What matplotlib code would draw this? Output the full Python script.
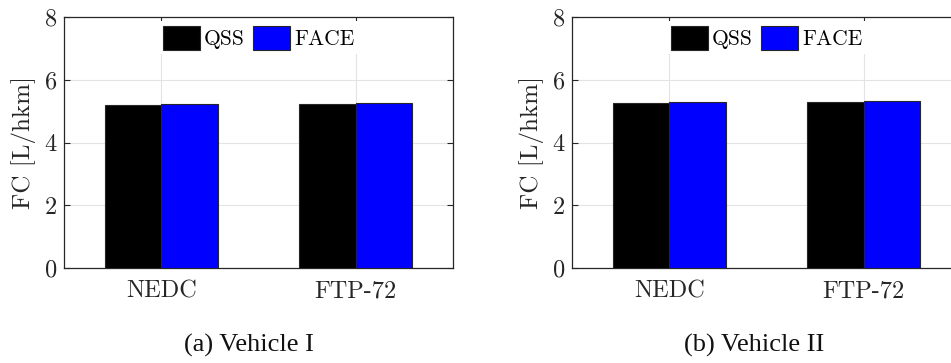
import matplotlib
matplotlib.use("Agg")
import matplotlib.pyplot as plt
import numpy as np

cycles = ["NEDC", "FTP-72"]
series = ["QSS", "FACE"]
vehicle1_qss = [5.21, 5.22]
vehicle1_face = [5.24, 5.25]
vehicle2_qss = [5.26, 5.29]
vehicle2_face = [5.30, 5.33]
captions = ["(a) Vehicle I", "(b) Vehicle II"]
yticks = [0, 2, 4, 6, 8]

plt.rcParams['font.family'] = ['cmr10', 'DejaVu Serif']
plt.rcParams['axes.unicode_minus'] = False
plt.rcParams['mathtext.fontset'] = 'cm'

fig = plt.figure(figsize=(9.51, 3.63), dpi=100)
W, H = 951, 363
axes_px = [(64, 17, 389, 251), (572, 17, 389, 251)]
caption_x = [248.5, 754]
data = [(vehicle1_qss, vehicle1_face), (vehicle2_qss, vehicle2_face)]
dark = '#262626'
bw = 0.29
x = np.arange(1, len(cycles) + 1)

for (l, t, w, h), (q, f), cap, capx in zip(axes_px, data, captions, caption_x):
    ax = fig.add_axes([l / W, 1 - (t + h) / H, w / W, h / H])
    ax.bar(x - bw / 2, q, bw, color='black', edgecolor=dark, linewidth=0.8, label=series[0], zorder=3)
    ax.bar(x + bw / 2, f, bw, color=(0, 0, 1), edgecolor=dark, linewidth=0.8, label=series[1], zorder=3)
    ax.set_xlim(0.5, 2.5)
    ax.set_ylim(0, 8)
    ax.set_xticks(x)
    ax.set_xticklabels(cycles)
    ax.set_yticks(yticks)
    ax.grid(True, color='#e3e3e3', linewidth=0.8, zorder=0)
    ax.set_axisbelow(True)
    ax.tick_params(direction='in', length=4, width=0.8, colors=dark, labelsize=17.5,
                   top=True, right=True, labelcolor=dark)
    ax.tick_params(axis='x', pad=9)
    ax.tick_params(axis='y', pad=5)
    for s in ax.spines.values():
        s.set_color(dark)
        s.set_linewidth(0.9)
    ax.set_ylabel('FC [L/hkm]', fontsize=18, color=dark, labelpad=6)
    leg = ax.legend(loc='upper center', ncol=2, fontsize=15.5, frameon=True,
                    handlelength=1.72, handleheight=1.35, handletextpad=0.2,
                    columnspacing=0.35, borderaxespad=0.2, borderpad=0.2,
                    fancybox=False)
    leg.get_frame().set_facecolor('white')
    leg.get_frame().set_edgecolor('none')
    leg.get_frame().set_alpha(1)
    for txt in leg.get_texts():
        txt.set_color('black')
    fig.text(capx / W, 1 - 345 / H, cap, ha='center', va='center', fontsize=19,
             family=['Liberation Serif', 'DejaVu Serif'], color='#111111')

fig.savefig('out.png', dpi=100)
